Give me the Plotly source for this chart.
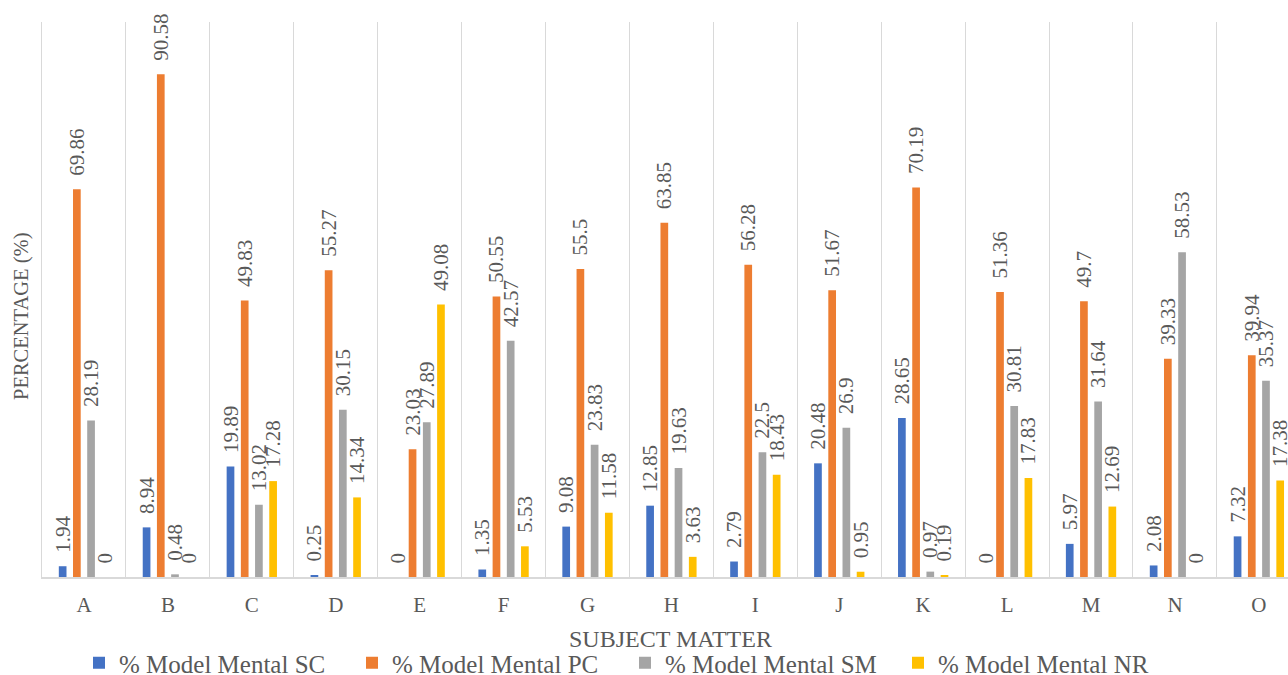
import plotly.graph_objects as go

categories = ["A", "B", "C", "D", "E", "F", "G", "H", "I", "J", "K", "L", "M", "N", "O"]
sc = [1.94, 8.94, 19.89, 0.25, 0, 1.35, 9.08, 12.85, 2.79, 20.48, 28.65, 0, 5.97, 2.08, 7.32]
pc = [69.86, 90.58, 49.83, 55.27, 23.03, 50.55, 55.5, 63.85, 56.28, 51.67, 70.19, 51.36, 49.7, 39.33, 39.94]
sm = [28.19, 0.48, 13.02, 30.15, 27.89, 42.57, 23.83, 19.63, 22.5, 26.9, 0.97, 30.81, 31.64, 58.53, 35.37]
nr = [0, 0, 17.28, 14.34, 49.08, 5.53, 11.58, 3.63, 18.43, 0.95, 0.19, 17.83, 12.69, 0, 17.38]

series_names = ["% Model Mental SC", "% Model Mental PC", "% Model Mental SM", "% Model Mental NR"]
series_values = [sc, pc, sm, nr]
colors = ["#4472C4", "#ED7D31", "#A5A5A5", "#FFC000"]

FONT = "Liberation Serif"
TXT = "#595959"
GRID = "#D9D9D9"

W, H = 1288, 675
ML, MR, MT, MB = 42, 0, 22, 98
PW, PH = W - ML - MR, H - MT - MB

fig = go.Figure()
for name, vals, col in zip(series_names, series_values, colors):
    fig.add_trace(go.Bar(
        x=categories, y=vals, name=name,
        marker=dict(color=col, line=dict(width=0)),
        text=["\u00a0\u00a0" + f"{v:g}" for v in vals],
        textposition="outside", textangle=-90,
        textfont=dict(family=FONT, size=21, color=TXT),
        cliponaxis=False, constraintext="none",
    ))

fig.update_layout(
    width=W, height=H,
    paper_bgcolor="white", plot_bgcolor="white",
    margin=dict(l=ML, r=MR, t=MT, b=MB),
    barmode="group", bargap=0.323, bargroupgap=0.458,
    font=dict(family=FONT, color=TXT),
    showlegend=True,
    legend=dict(
        orientation="h", xref="container", yref="container",
        x=79 / W, y=(H - 663) / H, xanchor="left", yanchor="middle",
        font=dict(family=FONT, size=25, color=TXT),
        entrywidth=228, entrywidthmode="pixels",
        bgcolor="rgba(0,0,0,0)", traceorder="normal",
    ),
    xaxis=dict(
        type="category", range=[-0.5, 14.347],
        tickson="boundaries", showgrid=True, gridcolor=GRID, gridwidth=1.3,
        showline=True, linecolor=GRID, linewidth=2,
        ticks="", ticklabelstandoff=8,
        tickfont=dict(family=FONT, size=21, color=TXT),
        zeroline=False,
    ),
    yaxis=dict(
        range=[0, 100], showgrid=False, zeroline=False,
        showticklabels=False, ticks="",
        showline=True, linecolor=GRID, linewidth=1.3,
    ),
    annotations=[
        dict(text="SUBJECT MATTER", xref="paper", yref="paper",
             x=(670 - ML) / PW, y=(H - MB - 639) / PH,
             xanchor="center", yanchor="middle", showarrow=False,
             font=dict(family=FONT, size=24, color=TXT)),
        dict(text="PERCENTAGE (%)", xref="paper", yref="paper",
             x=(21 - ML) / PW, y=(H - MB - 317) / PH, textangle=-90,
             xanchor="center", yanchor="middle", showarrow=False,
             font=dict(family=FONT, size=20.5, color=TXT)),
    ],
)

fig.write_html("out.html")
